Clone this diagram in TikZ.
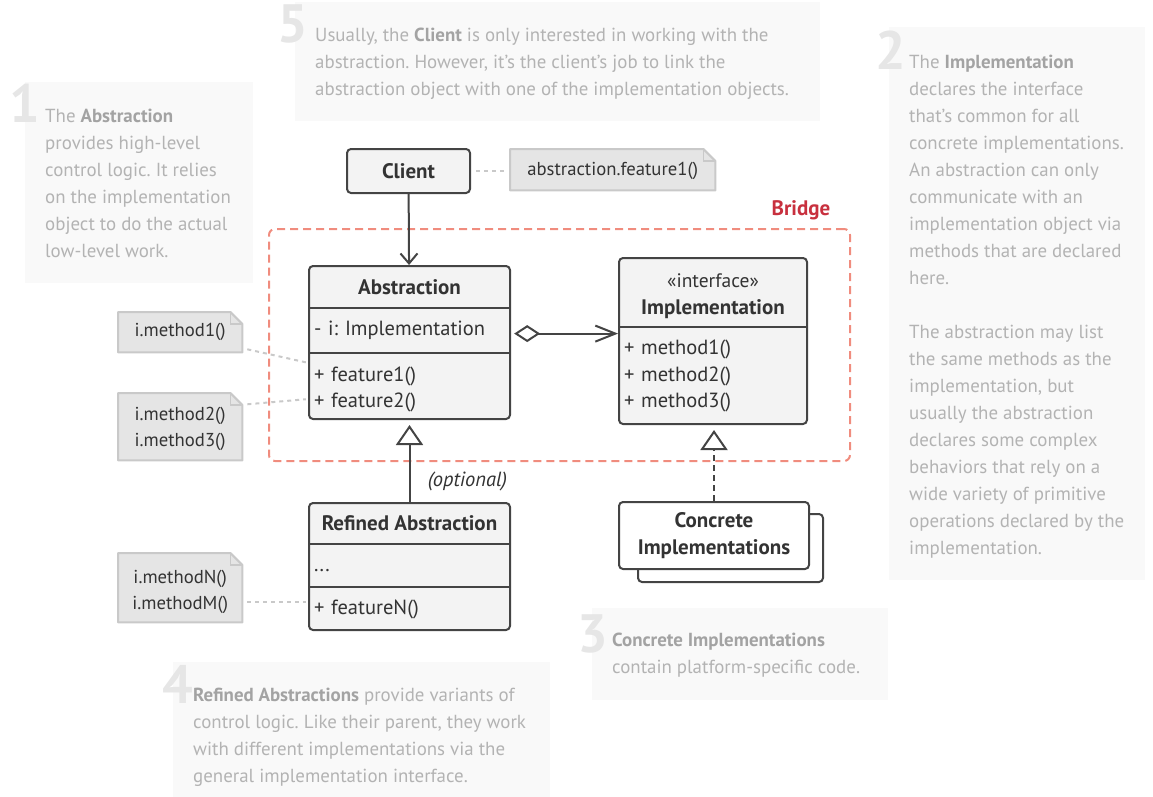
\documentclass[tikz,border=0pt]{standalone}
\usepackage{fontspec}
\setmainfont{PT Sans}
\usetikzlibrary{arrows.meta,positioning}

\definecolor{umlline}{HTML}{444444}
\definecolor{umlfill}{HTML}{F3F3F3}
\definecolor{umltext}{HTML}{333333}
\definecolor{notefill}{HTML}{E5E5E5}
\definecolor{noteline}{HTML}{C9C9C9}
\definecolor{tbfill}{HTML}{F9F9F9}
\definecolor{tbtext}{HTML}{B3B3B3}
\definecolor{tbbold}{HTML}{A3A3A3}
\definecolor{tbdigit}{HTML}{E6E6E6}
\definecolor{bridgeline}{HTML}{F08C7E}
\definecolor{bridgetext}{HTML}{C8303E}

% bold words in the grey comment boxes
\newcommand\kw[1]{{\bfseries\color{tbbold}#1}}
% folded corner of a note
\newcommand\dogear[1]{%
  \fill[white] ([xshift=-12pt]#1.north east) -- (#1.north east) -- ([yshift=-12pt]#1.north east) -- cycle;
  \draw[noteline,line width=2pt,line join=round] (#1.north west) -- ([xshift=-12pt]#1.north east)
    -- ([yshift=-12pt]#1.north east) -- (#1.south east) -- (#1.south west) -- cycle;
  \draw[noteline,line width=1.5pt] ([xshift=-12pt]#1.north east) -- ([xshift=-12pt,yshift=-12pt]#1.north east)
    -- ([yshift=-12pt]#1.north east);}

\begin{document}
\begin{tikzpicture}[x=1pt,y=-1pt]
			\frenchspacing
			\fontsize{20.5}{26.5}\selectfont
			\tikzstyle{tb}=[fill=tbfill,inner sep=0pt,anchor=north west]
			\tikzstyle{tbtxt}=[text=tbtext,align=left,inner sep=0pt,anchor=north west,font=\fontsize{18.9}{27}\selectfont]
			\tikzstyle{digit}=[text=tbdigit,inner sep=0pt,anchor=base east,font=\fontsize{54}{54}\selectfont\bfseries]
			\tikzstyle{cls}=[draw=umlline,fill=umlfill,line width=2pt,rounded corners=4pt,inner sep=0pt,anchor=north west]
			\tikzstyle{title}=[text=umltext,align=center,inner sep=0pt,anchor=north,font=\fontsize{21}{27}\selectfont\bfseries]
			\tikzstyle{part}=[text=umltext,align=left,inner xsep=5pt,inner ysep=0pt,anchor=north]
			\tikzstyle{note}=[fill=notefill,text=umltext,align=center,inner sep=0pt,anchor=north west,font=\fontsize{18.7}{26}\selectfont]
			\tikzstyle{link}=[noteline,line width=2pt,dash pattern=on 4pt off 4pt]
			\tikzstyle{assoc}=[umlline,line width=2pt,-{Straight Barb[length=10pt,width=17pt]}]
			\tikzstyle{aggr}=[umlline,line width=2pt,{Diamond[open,length=26pt,width=17pt]}-{Straight Barb[length=20pt,width=16pt]},shorten <=4pt]
			\tikzstyle{inherit}=[umlline,line width=2pt,-{Triangle[open,length=20pt,width=27pt]},shorten >=5pt]

			\useasboundingbox (0,0) rectangle (1153,797);

			% comment boxes
			\node[tb,minimum width=525pt,minimum height=119pt] (tb5) at (295,2) {};
			\node[tb,minimum width=228pt,minimum height=201pt] (tb1) at (25,82) {};
			\node[tb,minimum width=256pt,minimum height=553pt] (tb2) at (889,27) {};
			\node[tb,minimum width=296pt,minimum height=92pt] (tb3) at (592,608) {};
			\node[tb,minimum width=377pt,minimum height=135pt] (tb4) at (173,662) {};

			\node[digit] (d5) at (308,43) {5};
			\node[digit] (d1) at (40,122) {1};
			\node[digit] (d2) at (906,70) {2};
			\node[digit] (d3) at (608,652) {3};
			\node[digit] (d4) at (193,703) {4};

			\node[tbtxt] (t5) at (315,27.5) {Usually, the \kw{Client} is only interested in working with the\\abstraction. However, it’s the client’s job to link the\\abstraction object with one of the implementation objects.};
			\node[tbtxt] (t1) at (45,108.5) {The \kw{Abstraction}\\provides high-level\\control logic. It relies\\on the implementation\\object to do the actual\\low-level work.};
			\node[tbtxt] (t2) at (909,54.5) {The \kw{Implementation}\\declares the interface\\that’s common for all\\concrete implementations.\\An abstraction can only\\communicate with an\\implementation object via\\methods that are declared\\here.\\[27pt]The abstraction may list\\the same methods as the\\implementation, but\\usually the abstraction\\declares some complex\\behaviors that rely on a\\wide variety of primitive\\operations declared by the\\implementation.};
			\node[tbtxt] (t3) at (612,633) {\kw{Concrete Implementations}\\contain platform-specific code.};
			\node[tbtxt] (t4) at (193,687.5) {\kw{Refined Abstractions} provide variants of\\control logic. Like their parent, they work\\with different implementations via the\\general implementation interface.};

			% bridge frame
			\node[draw=bridgeline,line width=2pt,dash pattern=on 8pt off 5pt,rounded corners=6pt,inner sep=0pt,
				minimum width=581pt,minimum height=232pt,anchor=north west] (bridge) at (268,228) {};
			\node[text=bridgetext,font=\fontsize{21}{27}\selectfont\bfseries,inner sep=0pt] (bridge-lbl) at (801,210) {Bridge};

			% client
			\node[cls,minimum width=123pt,minimum height=44pt,text=umltext,font=\fontsize{21}{27}\selectfont\bfseries,anchor=center] (client) at (408.5,171) {Client};
			\node[note,minimum width=205pt,text height=26pt,text depth=15pt] (n0) at (510,149) {abstraction.feature1()};
			\dogear{n0}

			% abstraction
			\node[cls,minimum width=201pt,minimum height=153pt] (abs) at (308,265) {};
			\node[title,minimum width=201pt,minimum height=43pt] (abs-h) at (abs.north) {Abstraction};
			\node[part,text width=191pt,text height=27pt,text depth=17pt,below=0pt of abs-h] (abs-a) {- i: Implementation};
			\node[part,text width=191pt,text height=28pt,text depth=38pt,below=0pt of abs-a] (abs-m) {+ feature1()\\+ feature2()};
			\draw[umlline,line width=2pt] (abs-a.north west) -- (abs-a.north east);
			\draw[umlline,line width=2pt] (abs-m.north west) -- (abs-m.north east);

			% implementation
			\node[cls,minimum width=188pt,minimum height=166pt] (impl) at (618,257) {};
			\node[title,minimum width=188pt,text height=57pt,text depth=13pt] (impl-h) at (impl.north) {{\mdseries\fontsize{19.5}{27}\selectfont «interface»}\\Implementation};
			\node[part,text width=178pt,text height=27pt,text depth=69pt,below=0pt of impl-h] (impl-m) {+ method1()\\+ method2()\\+ method3()};
			\draw[umlline,line width=2pt] (impl-m.north west) -- (impl-m.north east);

			% refined abstraction
			\node[cls,minimum width=201pt,minimum height=127pt] (ref) at (308,502) {};
			\node[title,minimum width=201pt,minimum height=42pt] (ref-h) at (ref.north) {Refined Abstraction};
			\node[part,text width=191pt,text height=27pt,text depth=15pt,below=0pt of ref-h] (ref-a) {...};
			\node[part,text width=191pt,text height=27pt,text depth=15pt,below=0pt of ref-a] (ref-m) {+ featureN()};
			\draw[umlline,line width=2pt] (ref-a.north west) -- (ref-a.north east);
			\draw[umlline,line width=2pt] (ref-m.north west) -- (ref-m.north east);
			\node[text=umltext,font=\itshape,inner sep=0pt] (opt) at (467.5,481) {(optional)};

			% concrete implementations
			\node[cls,fill=white,minimum width=185pt,minimum height=68pt] (conc-back) at (637,513) {};
			\node[cls,fill=white,minimum width=190pt,minimum height=67pt,text=umltext,font=\fontsize{21}{27}\selectfont\bfseries,align=center] (conc) at (618,501) {Concrete\\Implementations};

			% notes on the left
			\node[note,minimum width=124pt,text height=24pt,text depth=16pt] (n1) at (118,312) {i.method1()};
			\node[note,minimum width=124pt,text height=53pt,text depth=14pt] (n2) at (118,393) {i.method2()\\i.method3()};
			\node[note,minimum width=124pt,text height=56pt,text depth=13pt] (n3) at (118,553) {i.methodN()\\i.methodM()};
			\dogear{n1}
			\dogear{n2}
			\dogear{n3}

			\draw[link,shorten <=5pt,shorten >=4pt] (client.east) -- (client.east -| n0.west);
			\draw[link,shorten <=5pt,shorten >=3pt] ([yshift=-16pt]n1.east) -- ([yshift=23pt]abs-m.west);
			\draw[link,shorten <=5pt,shorten >=3pt] ([yshift=22pt]n2.east) -- ([yshift=-13pt]abs-m.west);
			\draw[link,shorten <=5pt,shorten >=3pt] ([yshift=-14pt]n3.east) -- ([yshift=-14pt]n3.east -| ref-m.west);

			\draw[assoc] (client) -- (abs);
			\draw[aggr] ([yshift=-3pt]abs-a.east) -- ([yshift=-3pt]abs-a.east -| impl.west);
			\draw[inherit] (ref) -- (abs);
			\draw[inherit,dash pattern=on 6pt off 4pt] (conc) -- (conc |- impl.south);
		\end{tikzpicture}
\end{document}
